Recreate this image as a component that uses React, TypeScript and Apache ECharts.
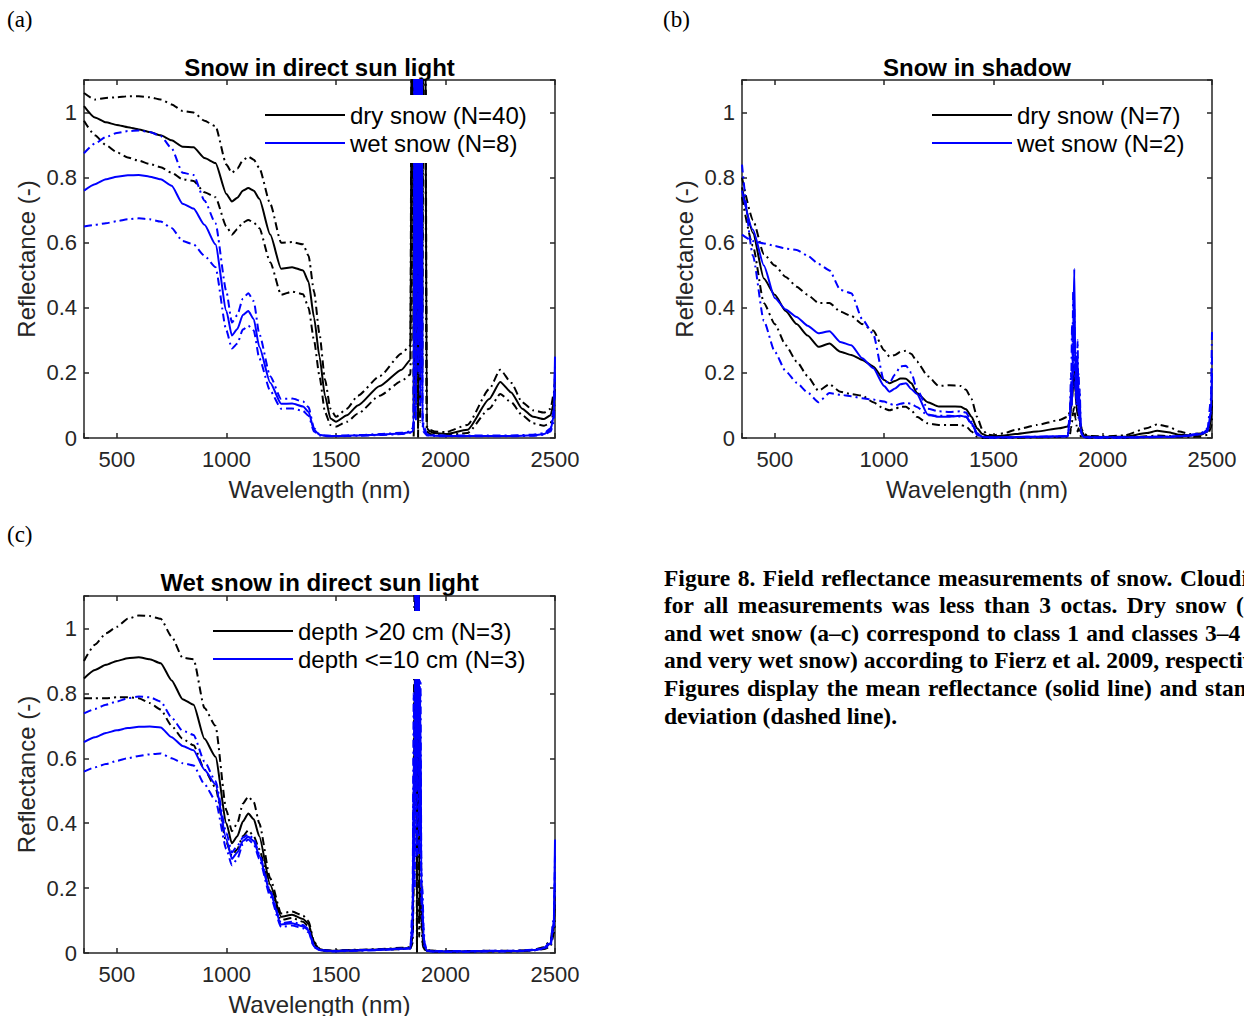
import React, { useEffect, useRef } from "react";
import * as echarts from "echarts";

// ---------------- DATA ----------------
const wavelengths = [
  350, 400, 450, 500, 550, 600, 650, 700, 750, 800,
  850, 900, 950,
  1000, 1025, 1050, 1075, 1100, 1125, 1150,
  1200, 1250, 1300, 1350,
  1375, 1400, 1425, 1450, 1475, 1500,
  1550, 1600, 1700, 1800, 1840,
  1850, 1855, 1860, 1865, 1870, 1875, 1880, 1885, 1890, 1895, 1900, 1905,
  1915, 1930, 1950, 2000,
  2100, 2200, 2250, 2300, 2350, 2400, 2450, 2480, 2495, 2500,
];

// (a) Snow in direct sun light
const aDryMean = [
  1.02, 0.985, 0.97, 0.962, 0.955, 0.948, 0.94, 0.93, 0.915, 0.895,
  0.893, 0.86, 0.845,
  0.75, 0.727, 0.738, 0.76, 0.768, 0.76, 0.735,
  0.625, 0.52, 0.525, 0.515,
  0.48, 0.37, 0.25, 0.13, 0.06, 0.05,
  0.07, 0.1, 0.16, 0.21, 0.24,
  2.0, 0.1, 1.6, 0.3, 2.5, 0.05, 1.8, 0.2, 2.2, 0.4, 2.5, 1.8,
  0.03, 0.02, 0.015, 0.012,
  0.025, 0.12, 0.172, 0.14, 0.09, 0.065, 0.058, 0.07, 0.11, 0.15,
];
const aDryUpper = [
  1.06, 1.04, 1.045, 1.047, 1.05, 1.05, 1.047, 1.04, 1.025, 1.005,
  1.0, 0.975, 0.958,
  0.84, 0.815, 0.828, 0.853, 0.865, 0.855, 0.83,
  0.72, 0.6, 0.602, 0.595,
  0.56, 0.45, 0.32, 0.18, 0.09, 0.065,
  0.09, 0.13, 0.19, 0.26, 0.285,
  2.5, 0.3, 2.0, 0.5, 3.0, 0.2, 2.4, 0.4, 2.8, 0.6, 3.0, 2.2,
  0.035, 0.025, 0.02, 0.018,
  0.04, 0.15, 0.21, 0.17, 0.11, 0.085, 0.078, 0.09, 0.14, 0.19,
];
const aDryLower = [
  0.975, 0.93, 0.9, 0.878, 0.862, 0.852, 0.842, 0.832, 0.815, 0.795,
  0.79, 0.755, 0.74,
  0.65, 0.625, 0.642, 0.662, 0.67, 0.662, 0.645,
  0.54, 0.44, 0.45, 0.442,
  0.4, 0.3, 0.19, 0.08, 0.04, 0.035,
  0.05, 0.075, 0.13, 0.175, 0.195,
  1.5, 0.0, 1.2, 0.1, 2.0, 0.0, 1.4, 0.05, 1.7, 0.2, 2.0, 1.4,
  0.02, 0.012, 0.01, 0.008,
  0.015, 0.09, 0.135, 0.11, 0.07, 0.045, 0.038, 0.045, 0.08, 0.1,
];
const aWetMean = [
  0.76, 0.78, 0.795, 0.803, 0.807, 0.808, 0.803, 0.795, 0.775, 0.72,
  0.705, 0.655, 0.595,
  0.39, 0.315, 0.335, 0.378, 0.39, 0.365, 0.28,
  0.17, 0.105, 0.106, 0.097,
  0.08, 0.025, 0.01, 0.007, 0.006, 0.006,
  0.007, 0.008, 0.01, 0.014, 0.018,
  0.02, 0.03, 1.8, 0.1, 2.2, 0.3, 2.5, 0.2, 1.9, 0.05, 0.03, 0.02,
  0.01, 0.008, 0.007, 0.006,
  0.006, 0.006, 0.006, 0.006, 0.007, 0.008, 0.012, 0.025, 0.07, 0.25,
];
const aWetUpper = [
  0.875, 0.905, 0.925, 0.937, 0.943, 0.945, 0.94, 0.928, 0.89, 0.815,
  0.808, 0.73, 0.66,
  0.45, 0.355, 0.378, 0.428, 0.445, 0.42, 0.32,
  0.19, 0.12, 0.121, 0.112,
  0.095, 0.03, 0.012, 0.008, 0.007, 0.007,
  0.008, 0.009, 0.012, 0.016, 0.02,
  0.03, 0.05, 2.0, 0.2, 2.5, 0.4, 2.8, 0.3, 2.2, 0.08, 0.04, 0.03,
  0.012, 0.01, 0.009, 0.008,
  0.008, 0.008, 0.008, 0.008, 0.009, 0.01, 0.015, 0.03, 0.09, 0.22,
];
const aWetLower = [
  0.65, 0.655, 0.66, 0.666, 0.672, 0.675, 0.672, 0.665, 0.645, 0.605,
  0.595, 0.56, 0.525,
  0.33, 0.275, 0.29, 0.333, 0.345, 0.33, 0.245,
  0.145, 0.09, 0.091, 0.083,
  0.068, 0.02, 0.008, 0.006, 0.005, 0.005,
  0.006, 0.007, 0.009, 0.012, 0.016,
  0.02, 0.03, 1.5, 0.05, 1.8, 0.2, 2.0, 0.1, 1.6, 0.04, 0.02, 0.015,
  0.008, 0.007, 0.006, 0.005,
  0.005, 0.005, 0.005, 0.005, 0.006, 0.007, 0.01, 0.02, 0.05, 0.2,
];

// (b) Snow in shadow
const bDryMean = [
  0.77, 0.63, 0.49, 0.44, 0.39, 0.35, 0.315, 0.28, 0.29, 0.265,
  0.255, 0.24, 0.22,
  0.178, 0.168, 0.175, 0.183, 0.182, 0.168, 0.138,
  0.11, 0.097, 0.097, 0.096,
  0.088, 0.065, 0.03, 0.012, 0.006, 0.005,
  0.008, 0.012, 0.02, 0.03, 0.035,
  0.05, 0.09, 0.12, 0.16, 0.2, 0.14, 0.1, 0.07, 0.09, 0.05, 0.03, 0.02,
  0.008, 0.005, 0.004, 0.003,
  0.004, 0.015, 0.022, 0.018, 0.01, 0.008, 0.01, 0.02, 0.05, 0.1,
];
const bDryUpper = [
  0.8, 0.67, 0.565, 0.53, 0.495, 0.465, 0.44, 0.415, 0.415, 0.388,
  0.375, 0.35, 0.33,
  0.27, 0.25, 0.255, 0.265, 0.268, 0.258, 0.235,
  0.19, 0.16, 0.162, 0.16,
  0.148, 0.12, 0.065, 0.025, 0.01, 0.008,
  0.015, 0.025, 0.04, 0.055, 0.065,
  0.08, 0.12, 0.16, 0.2, 0.24, 0.18, 0.13, 0.1, 0.12, 0.07, 0.04, 0.025,
  0.012, 0.008, 0.006, 0.005,
  0.008, 0.03, 0.042, 0.035, 0.02, 0.012, 0.014, 0.025, 0.06, 0.12,
];
const bDryLower = [
  0.74, 0.59, 0.415, 0.35, 0.285, 0.235, 0.19, 0.145, 0.165, 0.142,
  0.135, 0.13, 0.11,
  0.09, 0.085, 0.09, 0.096, 0.096, 0.085, 0.065,
  0.045, 0.04, 0.04, 0.04,
  0.036, 0.02, 0.004, 0.0, 0.0, 0.0,
  0.001, 0.001, 0.002, 0.003, 0.004,
  0.01, 0.03, 0.05, 0.08, 0.1, 0.06, 0.04, 0.02, 0.03, 0.01, 0.005, 0.003,
  0.002, 0.001, 0.001, 0.001,
  0.001, 0.005, 0.008, 0.006, 0.004, 0.003, 0.004, 0.01, 0.03, 0.06,
];
const bWetMean = [
  0.76, 0.64, 0.53, 0.43, 0.395, 0.372, 0.345, 0.322, 0.328, 0.295,
  0.285, 0.245, 0.215,
  0.16, 0.142, 0.152, 0.165, 0.168, 0.15, 0.135,
  0.072, 0.065, 0.065, 0.068,
  0.065, 0.045, 0.015, 0.004, 0.002, 0.002,
  0.002, 0.003, 0.004, 0.005, 0.006,
  0.06, 0.15, 0.1, 0.3, 0.52, 0.2, 0.12, 0.25, 0.08, 0.12, 0.03, 0.01,
  0.003, 0.002, 0.002, 0.002,
  0.002, 0.003, 0.004, 0.004, 0.005, 0.008, 0.012, 0.02, 0.08, 0.2,
];
const bWetUpper = [
  0.625, 0.605, 0.598, 0.59, 0.582, 0.578, 0.56, 0.535, 0.515, 0.455,
  0.445, 0.365, 0.32,
  0.175, 0.17, 0.195, 0.22, 0.222, 0.2, 0.15,
  0.09, 0.082, 0.08, 0.082,
  0.078, 0.05, 0.015, 0.003, 0.002, 0.002,
  0.002, 0.003, 0.004, 0.005, 0.006,
  0.08, 0.2, 0.12, 0.45, 0.3, 0.25, 0.1, 0.3, 0.06, 0.15, 0.02, 0.01,
  0.003, 0.002, 0.002, 0.002,
  0.002, 0.003, 0.004, 0.004, 0.006, 0.01, 0.015, 0.03, 0.12, 0.33,
];
const bWetLower = [
  0.84, 0.56, 0.36, 0.265, 0.205, 0.17, 0.14, 0.11, 0.138, 0.133,
  0.128, 0.122, 0.118,
  0.112, 0.105, 0.1, 0.105, 0.108, 0.105, 0.095,
  0.07, 0.068, 0.068, 0.066,
  0.065, 0.042, 0.01, 0.002, 0.001, 0.001,
  0.001, 0.002, 0.003, 0.004, 0.005,
  0.05, 0.12, 0.35, 0.2, 0.4, 0.15, 0.25, 0.1, 0.2, 0.05, 0.02, 0.01,
  0.002, 0.001, 0.001, 0.001,
  0.001, 0.002, 0.003, 0.003, 0.005, 0.008, 0.012, 0.025, 0.08, 0.25,
];

// (c) Wet snow in direct sun light
const cDeepMean = [
  0.846, 0.872, 0.888, 0.9, 0.908, 0.911, 0.905, 0.893, 0.84, 0.782,
  0.765, 0.66, 0.605,
  0.4, 0.338, 0.36, 0.405, 0.43, 0.412, 0.36,
  0.21, 0.112, 0.118, 0.105,
  0.09, 0.03, 0.012, 0.008, 0.007, 0.007,
  0.008, 0.009, 0.011, 0.014, 0.016,
  0.05, 0.3, 0.9, 2.0, 0.0, 2.5, 0.1, 0.2, 0.15, 0.05, 0.02, 0.01,
  0.008, 0.006, 0.005, 0.005,
  0.005, 0.006, 0.006, 0.006, 0.007, 0.009, 0.015, 0.03, 0.08, 0.15,
];
const cDeepUpper = [
  0.9, 0.95, 0.985, 1.005, 1.03, 1.04, 1.038, 1.03, 0.975, 0.91,
  0.905, 0.755, 0.7,
  0.44, 0.375, 0.4, 0.46, 0.482, 0.465, 0.4,
  0.23, 0.122, 0.128, 0.115,
  0.098, 0.035, 0.014, 0.009, 0.008, 0.008,
  0.009, 0.01, 0.012, 0.016, 0.018,
  0.08, 0.5, 1.5, 2.5, 0.3, 2.8, 0.4, 0.6, 0.22, 0.1, 0.03, 0.015,
  0.01, 0.008, 0.007, 0.006,
  0.006, 0.007, 0.007, 0.007, 0.008, 0.01, 0.018, 0.04, 0.1, 0.2,
];
const cDeepLower = [
  0.785, 0.785, 0.785, 0.788, 0.788, 0.785, 0.77, 0.75, 0.7, 0.66,
  0.64, 0.565, 0.51,
  0.34, 0.3, 0.32, 0.36, 0.378, 0.36, 0.32,
  0.19, 0.102, 0.108, 0.096,
  0.082, 0.025, 0.01, 0.006, 0.006, 0.006,
  0.007, 0.008, 0.01, 0.012, 0.014,
  0.03, 0.2, 0.6, 1.5, 0.0, 2.0, 0.05, 0.15, 0.1, 0.03, 0.015, 0.008,
  0.006, 0.005, 0.004, 0.004,
  0.004, 0.005, 0.005, 0.005, 0.006, 0.008, 0.012, 0.02, 0.06, 0.1,
];
const cShallowMean = [
  0.65, 0.665, 0.678, 0.686, 0.693, 0.697, 0.698, 0.695, 0.665, 0.638,
  0.625, 0.565, 0.52,
  0.35, 0.29, 0.31, 0.345, 0.358, 0.345, 0.3,
  0.185, 0.088, 0.092, 0.082,
  0.07, 0.02, 0.01, 0.007, 0.006, 0.006,
  0.007, 0.008, 0.01, 0.013, 0.015,
  0.1, 0.6, 0.3, 1.5, 0.5, 2.2, 0.4, 0.8, 0.2, 0.15, 0.06, 0.02,
  0.008, 0.006, 0.005, 0.005,
  0.005, 0.006, 0.006, 0.006, 0.007, 0.009, 0.015, 0.03, 0.1, 0.35,
];
const cShallowUpper = [
  0.738, 0.752, 0.765, 0.775, 0.785, 0.79, 0.788, 0.775, 0.725, 0.685,
  0.672, 0.59, 0.53,
  0.37, 0.31, 0.33, 0.355, 0.365, 0.352, 0.305,
  0.19, 0.092, 0.096, 0.086,
  0.074, 0.022, 0.011, 0.008, 0.007, 0.007,
  0.008, 0.009, 0.011, 0.014, 0.016,
  0.15, 0.8, 0.5, 1.8, 0.6, 2.8, 0.5, 1.0, 0.25, 0.2, 0.08, 0.03,
  0.009, 0.007, 0.006, 0.006,
  0.006, 0.007, 0.007, 0.007, 0.008, 0.01, 0.016, 0.035, 0.11, 0.3,
];
const cShallowLower = [
  0.559, 0.572, 0.582, 0.592, 0.6, 0.607, 0.612, 0.615, 0.6, 0.585,
  0.578, 0.52, 0.47,
  0.32, 0.27, 0.29, 0.335, 0.35, 0.335, 0.29,
  0.175, 0.08, 0.085, 0.076,
  0.064, 0.018, 0.009, 0.006, 0.005, 0.005,
  0.006, 0.007, 0.009, 0.012, 0.014,
  0.05, 0.4, 0.2, 1.0, 0.3, 1.6, 0.3, 0.6, 0.15, 0.1, 0.04, 0.015,
  0.007, 0.005, 0.004, 0.004,
  0.004, 0.005, 0.005, 0.005, 0.006, 0.008, 0.013, 0.025, 0.08, 0.25,
];

const xTickLabels = [500, 1000, 1500, 2000, 2500];
const yTickLabels = [0, 0.2, 0.4, 0.6, 0.8, 1];

const panelTitles = ["Snow in direct sun light", "Snow in shadow", "Wet snow in direct sun light"];
const panelLetters = ["(a)", "(b)", "(c)"];
const legendNames = [
  ["dry snow (N=40)", "wet snow (N=8)"],
  ["dry snow (N=7)", "wet snow (N=2)"],
  ["depth >20 cm (N=3)", "depth <=10 cm (N=3)"],
];

const captionLines = [
  "Figure 8. Field reflectance measurements of snow. Cloudiness",
  "for all measurements was less than 3 octas. Dry snow (a,b)",
  "and wet snow (a–c) correspond to class 1 and classes 3–4 (wet",
  "and very wet snow) according to Fierz et al. 2009, respectively.",
  "Figures display the mean reflectance (solid line) and standard",
  "deviation (dashed line).",
];

// ---------------- LAYOUT ----------------
const grids = [
  { left: 84, top: 80, width: 471, height: 358 },
  { left: 742, top: 80, width: 470, height: 358 },
  { left: 84, top: 596, width: 471, height: 357 },
];
const legendPos = [
  { left: 257, top: 95 },
  { left: 924, top: 95 },
  { left: 205, top: 611 },
];
const letterPos = [
  { x: 7, y: 19 },
  { x: 663, y: 19 },
  { x: 7, y: 534 },
];
const titleY = [67, 67, 582];
// x of the anchor word on each justified caption line
const captionAnchors: ({ word: string; x: number } | null)[] = [
  { word: "Cloudiness", x: 1180 },
  { word: "(a,b)", x: 1236 },
  { word: "3–4", x: 1205 },
  { word: "respectively.", x: 1165 },
  { word: "standard", x: 1205 },
  null,
];
const CAPTION_X = 664;
const CAPTION_Y0 = 577.5;
const CAPTION_DY = 27.6;
const CAPTION_FONT_SIZE = 23.5;

const AX = "#262626";
const BLUE = "#0000ff";
const BLACK = "#000000";
const DASH = [8, 4, 2, 4];

let measureCtx: CanvasRenderingContext2D | null = null;
function measure(text: string): number {
  if (!measureCtx) {
    const c = document.createElement("canvas");
    measureCtx = c.getContext("2d");
  }
  if (!measureCtx) return text.length * CAPTION_FONT_SIZE * 0.5;
  measureCtx.font = `bold ${CAPTION_FONT_SIZE}px "Liberation Serif"`;
  return measureCtx.measureText(text).width;
}

function captionElements(): any[] {
  const els: any[] = [];
  const base = {
    fill: "#000",
    fontSize: CAPTION_FONT_SIZE,
    fontWeight: "bold",
    fontFamily: "Liberation Serif",
    align: "left",
    verticalAlign: "middle",
    textAlign: "left",
    textVerticalAlign: "middle",
  };
  captionLines.forEach((line, li) => {
    const y = CAPTION_Y0 + li * CAPTION_DY;
    const anchor = captionAnchors[li];
    if (!anchor) {
      els.push({ type: "text", x: CAPTION_X, y, silent: true, style: { ...base, text: line } });
      return;
    }
    const words = line.split(" ");
    const widths = words.map((w) => measure(w));
    const k = words.indexOf(anchor.word);
    let before = 0;
    for (let i = 0; i < k; i++) before += widths[i];
    const spaceW = measure(" ");
    let gap = (anchor.x - CAPTION_X - before) / k;
    if (gap < spaceW * 0.6) gap = spaceW * 0.6;
    let x = CAPTION_X;
    words.forEach((w, i) => {
      els.push({ type: "text", x, y, silent: true, style: { ...base, text: w } });
      x += widths[i] + gap;
    });
  });
  return els;
}

function xFormatter(v: number) {
  const r = Math.round(v);
  return xTickLabels.indexOf(r) >= 0 && Math.abs(r - v) < 1e-6 ? String(r) : "";
}
function yFormatter(v: number) {
  const t = yTickLabels.find((t) => Math.abs(t - v) < 1e-6);
  return t === undefined ? "" : String(t);
}

function buildOption() {
  const xAxis: any[] = [];
  const yAxis: any[] = [];
  const lineStyleAx = { color: AX, width: 1.5 };
  grids.forEach((_, gi) => {
    const common = {
      type: "value",
      gridIndex: gi,
      min: 350,
      max: 2500,
      splitNumber: 4,
      splitLine: { show: false },
      axisLine: { show: true, onZero: false, lineStyle: lineStyleAx },
      axisTick: { show: true, inside: true, length: 5, lineStyle: lineStyleAx },
    };
    xAxis.push({
      ...common,
      position: "bottom",
      axisLabel: { show: true, formatter: xFormatter, color: AX, fontSize: 22, margin: 10, fontFamily: "Liberation Sans" },
      name: "Wavelength (nm)",
      nameLocation: "middle",
      nameGap: 39,
      nameTextStyle: { color: AX, fontSize: 24, fontFamily: "Liberation Sans" },
    });
    xAxis.push({ ...common, position: "top", axisLabel: { show: false } });
    const ycommon = {
      type: "value",
      gridIndex: gi,
      min: 0,
      max: 1.1,
      interval: 0.2,
      splitLine: { show: false },
      axisLine: { show: true, onZero: false, lineStyle: lineStyleAx },
      axisTick: { show: true, inside: true, length: 5, lineStyle: lineStyleAx },
    };
    yAxis.push({
      ...ycommon,
      position: "left",
      axisLabel: { show: true, formatter: yFormatter, color: AX, fontSize: 22, margin: 7, fontFamily: "Liberation Sans" },
      name: "Reflectance (-)",
      nameLocation: "middle",
      nameGap: 46,
      nameTextStyle: { color: AX, fontSize: 24, fontFamily: "Liberation Sans" },
    });
    yAxis.push({ ...ycommon, position: "right", axisLabel: { show: false } });
  });

  const panelData = [
    [aDryLower, aDryUpper, aDryMean, aWetLower, aWetUpper, aWetMean],
    [bDryLower, bDryUpper, bDryMean, bWetLower, bWetUpper, bWetMean],
    [cDeepLower, cDeepUpper, cDeepMean, cShallowLower, cShallowUpper, cShallowMean],
  ];
  const series: any[] = [];
  panelData.forEach((arrs, gi) => {
    const roles = ["lower", "upper", "mean", "lower", "upper", "mean"];
    arrs.forEach((arr, si) => {
      const isBlue = si >= 3;
      const isMean = roles[si] === "mean";
      const color = isBlue ? BLUE : BLACK;
      const name = isMean ? legendNames[gi][isBlue ? 1 : 0] : `${panelLetters[gi]} ${isBlue ? "group 2" : "group 1"} ${roles[si]}`;
      series.push({
        type: "line",
        name,
        xAxisIndex: gi * 2,
        yAxisIndex: gi * 2,
        data: wavelengths.map((w, i) => [w, arr[i]]),
        showSymbol: false,
        symbol: "none",
        smooth: 0.2,
        smoothMonotone: "x",
        color,
        itemStyle: { color },
        lineStyle: { color, width: 2, type: isMean ? "solid" : DASH },
        silent: true,
        clip: true,
        z: isBlue ? 3 : 2,
        emphasis: { disabled: true },
      });
    });
  });

  const legend = grids.map((_, gi) => ({
    orient: "vertical",
    left: legendPos[gi].left,
    top: legendPos[gi].top,
    padding: 8,
    itemGap: 4,
    itemWidth: 80,
    itemHeight: 2,
    icon: "rect",
    backgroundColor: "#ffffff",
    selectedMode: false,
    data: legendNames[gi],
    textStyle: { color: "#000", fontSize: 24, lineHeight: 24, fontFamily: "Liberation Sans" },
    z: 10,
  }));

  const graphicEls: any[] = [];
  grids.forEach((g, gi) => {
    graphicEls.push({
      type: "text",
      x: g.left + g.width / 2,
      y: titleY[gi],
      silent: true,
      style: {
        text: panelTitles[gi],
        fill: "#000",
        fontSize: 24,
        fontWeight: "bold",
        fontFamily: "Liberation Sans",
        align: "center",
        verticalAlign: "middle",
        textAlign: "center",
        textVerticalAlign: "middle",
      },
    });
    graphicEls.push({
      type: "text",
      x: letterPos[gi].x,
      y: letterPos[gi].y,
      silent: true,
      style: {
        text: panelLetters[gi],
        fill: "#000",
        fontSize: 23,
        fontFamily: "Liberation Serif",
        align: "left",
        verticalAlign: "middle",
        textAlign: "left",
        textVerticalAlign: "middle",
      },
    });
  });
  graphicEls.push(...captionElements());

  return {
    animation: false,
    backgroundColor: "#ffffff",
    textStyle: { fontFamily: "Liberation Sans" },
    grid: grids.map((g) => ({ ...g, containLabel: false, outerBoundsMode: "none" })),
    xAxis,
    yAxis,
    legend,
    series,
    graphic: { elements: graphicEls },
  };
}

export default function App() {
  const ref = useRef<HTMLDivElement | null>(null);
  useEffect(() => {
    if (!ref.current) return;
    const chart = echarts.init(ref.current, undefined, { renderer: "svg" });
    chart.setOption(buildOption() as any);
    return () => chart.dispose();
  }, []);
  return (
    <div
      ref={ref}
      style={{ position: "absolute", left: 0, top: 0, width: 1244, height: 1016, background: "#fff" }}
    />
  );
}
